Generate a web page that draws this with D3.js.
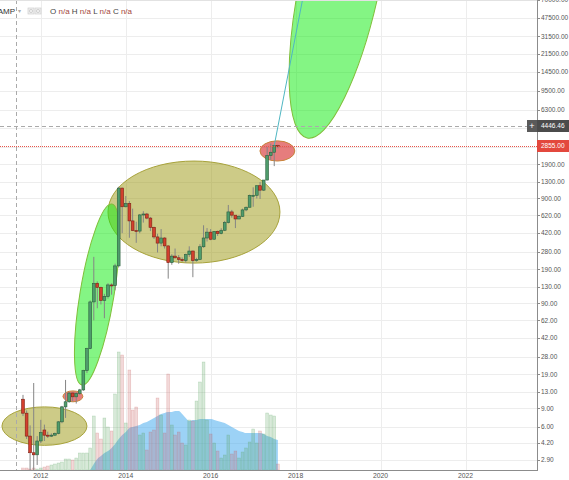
<!DOCTYPE html>
<html>
<head>
<meta charset="utf-8">
<script src="https://cdn.jsdelivr.net/npm/d3@7"></script>
<style>
  body { margin: 0; background: #fff; }
  svg { display: block; font-family: "Liberation Sans", Arial, sans-serif; }
</style>
</head>
<body>
<div class="chart"></div>
<script>
// monthly candles, Bitstamp BTCUSD, log scale
const months = [
  "2011-08", "2011-09", "2011-10", "2011-11", "2011-12",
  "2012-01", "2012-02", "2012-03", "2012-04", "2012-05", "2012-06", "2012-07", "2012-08", "2012-09", "2012-10", "2012-11", "2012-12",
  "2013-01", "2013-02", "2013-03", "2013-04", "2013-05", "2013-06", "2013-07", "2013-08", "2013-09", "2013-10", "2013-11", "2013-12",
  "2014-01", "2014-02", "2014-03", "2014-04", "2014-05", "2014-06", "2014-07", "2014-08", "2014-09", "2014-10", "2014-11", "2014-12",
  "2015-01", "2015-02", "2015-03", "2015-04", "2015-05", "2015-06", "2015-07", "2015-08", "2015-09", "2015-10", "2015-11", "2015-12",
  "2016-01", "2016-02", "2016-03", "2016-04", "2016-05", "2016-06", "2016-07", "2016-08", "2016-09", "2016-10", "2016-11", "2016-12",
  "2017-01", "2017-02", "2017-03", "2017-04", "2017-05", "2017-06", "2017-07", "2017-08"
];
const open = [
  11.0, 8.1, 4.9, 3.4, 3.25,
  4.4, 5.6, 5.0, 4.9, 5.0, 5.2, 6.7, 9.3, 10.4, 12.6, 11.6, 12.5,
  13.5, 20.6, 33.4, 93, 140, 128, 96, 105, 135, 133, 205, 1130,
  750, 805, 550, 445, 440, 627, 640, 585, 478, 387, 338, 378,
  318, 220, 254, 245, 236, 230, 263, 284, 230, 236, 312, 378,
  430, 368, 437, 416, 448, 531, 670, 624, 574, 608, 700, 742,
  963, 965, 1190, 1080, 1348, 2300, 2480, 2875
];
const high = [
  12.1, 8.6, 6.2, 15.7, 4.9,
  7.0, 6.3, 5.4, 5.2, 5.3, 6.8, 9.5, 16.8, 12.9, 12.8, 12.8, 13.8,
  21, 34, 96, 250, 146, 130, 111, 140, 140, 215, 1163, 1140,
  950, 850, 720, 540, 640, 680, 655, 600, 485, 415, 460, 385,
  320, 265, 300, 260, 247, 268, 315, 287, 245, 330, 500, 470,
  460, 440, 445, 468, 550, 780, 700, 626, 630, 720, 755, 980,
  1150, 1200, 1290, 1350, 2790, 3000, 2930, 2920
];
const low = [
  7.6, 4.6, 2.3, 2.0, 2.6,
  4.2, 4.4, 4.7, 4.8, 4.9, 5.1, 6.5, 7.3, 10.2, 10.5, 10.0, 12.1,
  13.2, 19.5, 33, 62, 81, 88, 65, 100, 109, 120, 198, 420,
  740, 380, 440, 340, 420, 530, 570, 440, 370, 275, 315, 300,
  155, 210, 240, 215, 225, 220, 250, 160, 225, 235, 305, 350,
  360, 365, 395, 410, 440, 520, 590, 470, 570, 600, 680, 740,
  750, 900, 890, 1060, 1340, 2100, 1830, 2700
];
const close = [
  8.1, 4.9, 3.4, 3.25, 4.4,
  5.3, 5.0, 4.9, 5.0, 5.2, 6.7, 9.3, 10.4, 12.6, 11.6, 12.5, 13.5,
  20.6, 33.4, 93, 140, 128, 96, 105, 135, 133, 205, 1130, 750,
  805, 550, 445, 440, 627, 640, 585, 478, 387, 338, 378, 318,
  220, 254, 245, 236, 230, 263, 284, 230, 236, 312, 378, 430,
  368, 437, 416, 448, 531, 670, 624, 574, 608, 700, 742, 963,
  965, 1190, 1080, 1348, 2300, 2480, 2875, 2855
];
const volume = [
  2, 2, 1, 2, 1,
  2, 3, 4, 5, 6, 7, 8, 11, 11, 10, 12, 17,
  17, 17, 22, 54, 37, 31, 52, 43, 39, 76, 118, 115,
  47, 100, 60, 63, 35, 37, 20, 38, 40, 72, 55, 37,
  96, 45, 35, 38, 27, 25, 50, 49, 69, 88, 108, 50,
  36, 27, 19, 12, 15, 35, 16, 19, 12, 18, 22, 28,
  41, 27, 39, 36, 57, 55, 54, 6
];
// volume moving average, starts at 2013-03
const volumeMaFrom = 19;
const volumeMa = [
  0, 6, 11, 14, 17, 19, 22, 26, 31, 35,
  38, 42, 43, 44, 45, 47, 48, 50, 52, 54, 56, 57,
  58, 58, 59, 59, 56, 52, 49, 50, 50, 51, 51, 51,
  51, 50, 49, 48, 47, 45, 43, 41, 39, 38, 37, 37,
  37, 37, 37, 36, 34, 33, 31, 30
];

const priceTicks = [2.9, 4.2, 6, 9, 13, 19, 28, 42, 62, 90, 130, 190, 280, 420, 620, 900, 1300, 1900, 2800, 4200, 6300, 9500, 14500, 21500, 31500, 47500, 70000];
const hiddenTickLabels = [2800, 4200];
const yearTicks = ["2012", "2014", "2016", "2018", "2020", "2022"];

const lastPrice = 2855.00;
const crossPrice = 4446.46;
const crossMonth = "2011-06";
const projection = [["2017-07", 2875], ["2018-03", 70000]];

// drawings: boxes [from, to, low price, high price], tilted ones [bottom date, bottom price, top date, top price, half width]
const oliveSmall = ["2011-02-01", "2013-02-01", 4.0, 9.3];
const redSmall = ["2012-07-10", "2012-12-28", 10.4, 13.2];
const limeLow = ["2012-12-20", 15.0, "2013-09-04", 796, 17];
const oliveBig = ["2013-08-01", "2017-08-19", 218, 2045];
const redTop = ["2017-02-28", "2017-12-25", 2045, 3184];
const limeTop = ["2018-04-10", 3396, "2019-11-06", 3470000, 40];

const width = 569, height = 480;
const plotRight = 537, plotBottom = 470;

const parseMonth = d3.utcParse("%Y-%m");
const parseDay = d3.utcParse("%Y-%m-%d");

const svg = d3.select('.chart')
  .append('svg')
  .attr('width', width)
  .attr('height', height);

const x = d3.scaleUtc()
  .domain([parseMonth("2011-08"), parseMonth("2022-01")])
  .range([23, 465.5]);
const y = d3.scaleLog()
  .domain([2.9, 70000])
  .range([460, 0]);
const yVol = d3.scaleLinear()
  .domain([0, 120])
  .range([plotBottom, 350]);

svg.append('clipPath').attr('id', 'plot')
  .append('rect').attr('width', plotRight).attr('height', plotBottom);

// grid
const grid = svg.append('g').attr('stroke', '#ededed').attr('shape-rendering', 'crispEdges');
grid.selectAll('.hg').data(priceTicks).join('line')
  .attr('x1', 0).attr('x2', plotRight)
  .attr('y1', d => Math.round(y(d)) + 0.5).attr('y2', d => Math.round(y(d)) + 0.5);
grid.selectAll('.vg').data(yearTicks).join('line')
  .attr('x1', d => Math.round(x(parseMonth(d + "-01"))) + 0.5)
  .attr('x2', d => Math.round(x(parseMonth(d + "-01"))) + 0.5)
  .attr('y1', 0).attr('y2', plotBottom);

const candles = months.map((m, i) => ({
  date: parseMonth(m), o: open[i], h: high[i], l: low[i], c: close[i], v: volume[i]
}));

const plotG = svg.append('g').attr('clip-path', 'url(#plot)');

// volume average area
const maData = volumeMa.map((v, k) => ({ date: candles[volumeMaFrom + k].date, v }));
plotG.append('path')
  .datum(maData)
  .attr('fill', 'rgba(85,178,240,0.58)')
  .attr('d', d3.area().curve(d3.curveMonotoneX)
    .x(d => x(d.date)).y0(plotBottom).y1(d => yVol(d.v)));

// volume bars
plotG.append('g').selectAll('rect').data(candles).join('rect')
  .attr('x', d => x(d.date) - 1.4)
  .attr('width', 2.8)
  .attr('y', d => yVol(d.v))
  .attr('height', d => plotBottom - yVol(d.v))
  .attr('fill', d => d.c >= d.o ? 'rgba(90,165,95,0.24)' : 'rgba(200,95,95,0.24)')
  .attr('stroke', d => d.c >= d.o ? 'rgba(90,165,95,0.38)' : 'rgba(200,95,95,0.38)')
  .attr('stroke-width', 0.5);

// drawings
function boxEllipse(b, fill, stroke) {
  const x0 = x(parseDay(b[0])), x1 = x(parseDay(b[1]));
  const y0 = y(b[3]), y1 = y(b[2]);
  plotG.append('ellipse')
    .attr('cx', (x0 + x1) / 2).attr('cy', (y0 + y1) / 2)
    .attr('rx', (x1 - x0) / 2).attr('ry', (y1 - y0) / 2)
    .attr('fill', fill).attr('stroke', stroke).attr('stroke-width', 1);
}
function tiltEllipse(t, fill, stroke) {
  const bx = x(parseDay(t[0])), by = y(t[1]);
  const tx = x(parseDay(t[2])), ty = y(t[3]);
  const dx = tx - bx, dy = ty - by;
  const len = Math.hypot(dx, dy);
  const ang = Math.atan2(dx, -dy) * 180 / Math.PI;
  plotG.append('ellipse')
    .attr('transform', `translate(${(bx + tx) / 2},${(by + ty) / 2}) rotate(${ang})`)
    .attr('rx', t[4]).attr('ry', len / 2)
    .attr('fill', fill).attr('stroke', stroke).attr('stroke-width', 1);
}
const oliveFill = 'rgba(160,155,25,0.52)', oliveLine = '#a7a23a';
const limeFill = 'rgba(20,235,20,0.52)', limeLine = '#7fbf3a';
const redFill = 'rgba(215,45,45,0.62)', redLine = '#c8843a';
boxEllipse(oliveSmall, oliveFill, oliveLine);
boxEllipse(oliveBig, oliveFill, oliveLine);
tiltEllipse(limeLow, limeFill, limeLine);
tiltEllipse(limeTop, limeFill, limeLine);
boxEllipse(redSmall, redFill, redLine);
boxEllipse(redTop, redFill, redLine);

// candles
const cg = plotG.append('g');
cg.selectAll('line').data(candles).join('line')
  .attr('x1', d => x(d.date)).attr('x2', d => x(d.date))
  .attr('y1', d => y(d.h)).attr('y2', d => y(d.l))
  .attr('stroke', '#858585').attr('stroke-width', 1);
cg.selectAll('rect').data(candles).join('rect')
  .attr('x', d => x(d.date) - 1.4)
  .attr('width', 2.8)
  .attr('y', d => y(Math.max(d.o, d.c)))
  .attr('height', d => Math.max(1, Math.abs(y(d.o) - y(d.c))))
  .attr('fill', d => d.c >= d.o ? '#4f9c6c' : '#d3402e')
  .attr('stroke', d => d.c >= d.o ? '#2b5e3d' : '#7d2014')
  .attr('stroke-width', 0.6);

// projection line
plotG.append('path')
  .datum(projection)
  .attr('fill', 'none')
  .attr('stroke', '#4fb6c2')
  .attr('stroke-width', 1)
  .attr('d', d3.line().x(d => x(parseMonth(d[0]))).y(d => y(d[1])));

// last price line and crosshair
svg.append('line')
  .attr('x1', 0).attr('x2', plotRight)
  .attr('y1', Math.round(y(lastPrice)) + 0.5).attr('y2', Math.round(y(lastPrice)) + 0.5)
  .attr('stroke', '#e8554a').attr('stroke-dasharray', '1,1').attr('stroke-width', 1);
svg.append('line')
  .attr('x1', 0).attr('x2', plotRight - 10)
  .attr('y1', Math.round(y(crossPrice)) + 0.5).attr('y2', Math.round(y(crossPrice)) + 0.5)
  .attr('stroke', '#aaaaaa').attr('stroke-dasharray', '4,3');
svg.append('line')
  .attr('x1', Math.round(x(parseMonth(crossMonth))) + 0.5).attr('x2', Math.round(x(parseMonth(crossMonth))) + 0.5)
  .attr('y1', 0).attr('y2', plotBottom)
  .attr('stroke', '#aaaaaa').attr('stroke-dasharray', '4,3');

// axes
const axis = svg.append('g').attr('stroke', '#8c8c8c').attr('shape-rendering', 'crispEdges');
axis.append('line').attr('x1', plotRight + 0.5).attr('x2', plotRight + 0.5).attr('y1', 0).attr('y2', plotBottom + 1);
axis.append('line').attr('x1', 0).attr('x2', plotRight + 1).attr('y1', plotBottom + 0.5).attr('y2', plotBottom + 0.5);
axis.append('line').attr('x1', 0).attr('x2', plotRight).attr('y1', 0.5).attr('y2', 0.5).attr('stroke', '#e2e2e2');
axis.selectAll('.yt').data(priceTicks).join('line')
  .attr('x1', plotRight + 1).attr('x2', plotRight + 3)
  .attr('y1', d => Math.round(y(d)) + 0.5).attr('y2', d => Math.round(y(d)) + 0.5);

svg.append('g').selectAll('text')
  .data(priceTicks.filter(d => !hiddenTickLabels.includes(d)))
  .join('text')
  .attr('x', plotRight + 4)
  .attr('y', d => y(d))
  .attr('dy', '0.35em')
  .attr('font-size', 6.5)
  .attr('fill', '#555')
  .text(d => d3.format('.2f')(d));

svg.append('g').selectAll('text').data(yearTicks).join('text')
  .attr('x', d => x(parseMonth(d + "-01")))
  .attr('y', 478)
  .attr('text-anchor', 'middle')
  .attr('font-size', 6.8)
  .attr('fill', '#555')
  .text(d => d);

// price labels on the axis
function axisLabel(value, bg) {
  const yy = Math.round(y(value));
  svg.append('rect').attr('x', plotRight).attr('y', yy - 6).attr('width', width - plotRight).attr('height', 12).attr('fill', bg);
  svg.append('text').attr('x', plotRight + 4).attr('y', yy).attr('dy', '0.35em')
    .attr('font-size', 6.5).attr('fill', '#fff').text(d3.format('.2f')(value));
}
axisLabel(crossPrice, '#4b4b4b');
axisLabel(lastPrice, '#e3483d');
const cy = Math.round(y(crossPrice));
svg.append('rect').attr('x', plotRight - 10).attr('y', cy - 6).attr('width', 10).attr('height', 12).attr('fill', '#5a5a5a');
svg.append('text').attr('x', plotRight - 5).attr('y', cy).attr('dy', '0.35em').attr('text-anchor', 'middle')
  .attr('font-size', 9).attr('fill', '#fff').text('+');

// legend row
const head = svg.append('g').attr('font-size', 8);
head.append('text').attr('x', 15).attr('y', 14).attr('text-anchor', 'end').attr('fill', '#333').text('BITSTAMP');
head.append('text').attr('x', 18).attr('y', 13).attr('fill', '#aaa').attr('font-size', 6).text('▾');
[28, 35].forEach(px => {
  head.append('rect').attr('x', px).attr('y', 8).attr('width', 6).attr('height', 6)
    .attr('fill', '#f0f0f0').attr('stroke', '#c8c8c8').attr('stroke-width', 0.6);
  head.append('circle').attr('cx', px + 3).attr('cy', 11).attr('r', 1.6)
    .attr('fill', 'none').attr('stroke', '#bdbdbd').attr('stroke-width', 0.6);
});
const legend = head.append('text').attr('x', 50).attr('y', 14);
[['O', 'n/a'], ['H', 'n/a'], ['L', 'n/a'], ['C', 'n/a']].forEach(([k, v], i) => {
  legend.append('tspan').attr('fill', '#444').text((i ? ' ' : '') + k + ' ');
  legend.append('tspan').attr('fill', '#a4473a').text(v);
});
</script>
</body>
</html>
